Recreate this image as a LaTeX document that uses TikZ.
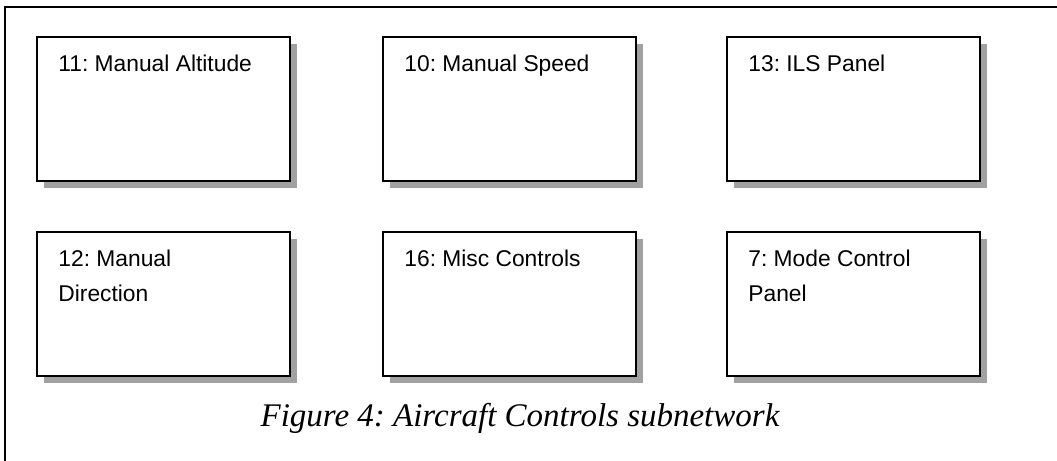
\documentclass[tikz,border=0pt]{standalone}
\usepackage{fontspec}
\setmainfont{Liberation Serif}
\newfontfamily\unitfont{Liberation Sans}
\usepackage{tikz}
\usetikzlibrary{shadows}
\frenchspacing

\tikzset{
    unit/.style={draw=black, line width=1pt, fill=white, anchor=north west,
        minimum width=126.5pt, minimum height=72pt, inner sep=0pt,
        drop shadow={shadow xshift=3.5pt, shadow yshift=-3.5pt, fill=black!37, opacity=1}},
    unitlabel/.style={anchor=north west, inner sep=0pt, align=left,
        font=\unitfont\fontsize{11.4}{17.5}\selectfont},
    frame/.style={black, line width=0.9pt},
    caption/.style={anchor=base, inner sep=0pt, font=\itshape\fontsize{16.5}{20}\selectfont}
}

\begin{document}
\begin{tikzpicture}[x=0.5pt, y=-0.5pt]
    \useasboundingbox (0,0) rectangle (1057,461);

    % outer frame (top and left edge only)
    \draw[frame] (1057,7) -| (5,461);

    % subnetwork units
    \foreach \name/\x/\y/\txt in {
        alt/36/36/{11: Manual Altitude},
        spd/382/36/{10: Manual Speed},
        ils/726/36/{13: ILS Panel},
        dir/36/231/{12: Manual\\Direction},
        misc/382/231/{16: Misc Controls},
        mcp/726/231/{7: Mode Control\\Panel}} {
        \node[unit] (\name) at (\x,\y) {};
        \node[unitlabel] (\name-txt) at ([xshift=11pt, yshift=-9.5pt]\name.north west) {\txt};
    }

    % caption
    \node[caption] (cap) at (520,426) {Figure 4: Aircraft Controls subnetwork};
\end{tikzpicture}
\end{document}
